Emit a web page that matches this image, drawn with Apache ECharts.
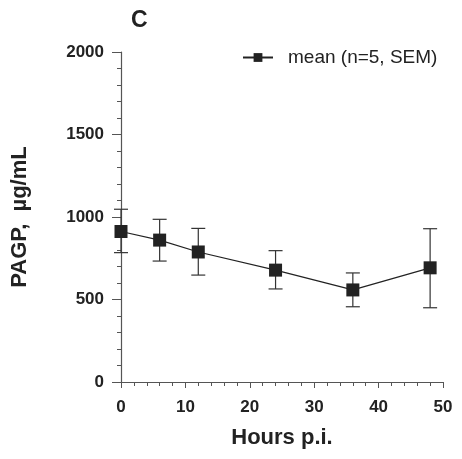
<!DOCTYPE html>
<html>
<head>
<meta charset="utf-8">
<script src="https://cdn.jsdelivr.net/npm/echarts@6/dist/echarts.min.js"></script>
<style>
    html, body { margin: 0; padding: 0; background: #fff; }
    #main { width: 462px; height: 459px; }
</style>
</head>
<body>
<div id="main"></div>
<script>
// hours post infection
var hours = [0, 6, 12, 24, 36, 48];
// mean PAGP, ug/mL
var meanValues = [912, 860, 788, 678, 558, 692];
// mean - SEM and mean + SEM
var lowValues = [784, 733, 648, 564, 456, 450];
var highValues = [1047, 986, 931, 796, 661, 929];
var yTicks = [0, 500, 1000, 1500, 2000];
var xTicks = [0, 10, 20, 30, 40, 50];

var font = '"Liberation Sans", Arial, sans-serif';
var ink = '#222';
var axisGray = '#555';

var errData = hours.map(function (h, i) {
    return [h, lowValues[i], highValues[i]];
});

var myChart = echarts.init(document.getElementById('main'));
var option = {
    animation: false,
    title: {
        text: 'C',
        left: 126,
        top: 4,
        textStyle: { fontFamily: font, fontSize: 23, fontWeight: 'bold', color: ink }
    },
    legend: {
        data: ['mean (n=5, SEM)'],
        left: 237,
        top: 43,
        itemWidth: 30,
        itemHeight: 11,
        textStyle: { fontFamily: font, fontSize: 19, color: ink, padding: [0, 0, 0, 10] }
    },
    grid: { left: 121, right: 19, top: 52, bottom: 77 },
    xAxis: {
        type: 'value',
        min: 0,
        max: 50,
        interval: 10,
        name: 'Hours p.i.',
        nameLocation: 'middle',
        nameGap: 45,
        nameTextStyle: { fontFamily: font, fontSize: 22, fontWeight: 'bold', color: ink },
        axisLine: { show: true, lineStyle: { color: axisGray, width: 1.2 } },
        axisTick: { show: true, length: 6, lineStyle: { color: axisGray } },
        minorTick: { show: true, splitNumber: 5, length: 4, lineStyle: { color: axisGray } },
        splitLine: { show: false },
        axisLabel: {
            margin: 17, fontFamily: font, fontSize: 17, fontWeight: 'bold', color: ink,
            formatter: function (v) { return xTicks.indexOf(v) >= 0 ? String(v) : ''; }
        }
    },
    yAxis: {
        type: 'value',
        min: 0,
        max: 2000,
        interval: 500,
        name: 'PAGP,  \u00b5g/mL',
        nameLocation: 'middle',
        nameGap: 90,
        nameTextStyle: { fontFamily: font, fontSize: 22, fontWeight: 'bold', color: ink },
        axisLine: { show: true, lineStyle: { color: axisGray, width: 1.2 } },
        axisTick: { show: true, length: 9, lineStyle: { color: axisGray } },
        minorTick: { show: true, splitNumber: 5, length: 4, lineStyle: { color: axisGray } },
        splitLine: { show: false },
        axisLabel: {
            margin: 17, fontFamily: font, fontSize: 17, fontWeight: 'bold', color: ink,
            formatter: function (v) { return yTicks.indexOf(v) >= 0 ? String(v) : ''; }
        }
    },
    series: [
        {
            name: 'SEM',
            type: 'custom',
            z: 1,
            data: errData,
            renderItem: function (params, api) {
                var x = api.value(0);
                var lo = api.coord([x, api.value(1)]);
                var hi = api.coord([x, api.value(2)]);
                var half = 7;
                var style = { stroke: '#333', lineWidth: 1.2 };
                return {
                    type: 'group',
                    children: [
                        { type: 'line', shape: { x1: hi[0], y1: hi[1], x2: lo[0], y2: lo[1] }, style: style },
                        { type: 'line', shape: { x1: hi[0] - half, y1: hi[1], x2: hi[0] + half, y2: hi[1] }, style: style },
                        { type: 'line', shape: { x1: lo[0] - half, y1: lo[1], x2: lo[0] + half, y2: lo[1] }, style: style }
                    ]
                };
            }
        },
        {
            name: 'mean (n=5, SEM)',
            type: 'line',
            z: 3,
            data: hours.map(function (h, i) { return [h, meanValues[i]]; }),
            symbol: 'rect',
            symbolSize: 13,
            lineStyle: { color: ink, width: 1.2 },
            itemStyle: { color: ink },
            emphasis: { disabled: true }
        }
    ]
};
myChart.setOption(option);
</script>
</body>
</html>
